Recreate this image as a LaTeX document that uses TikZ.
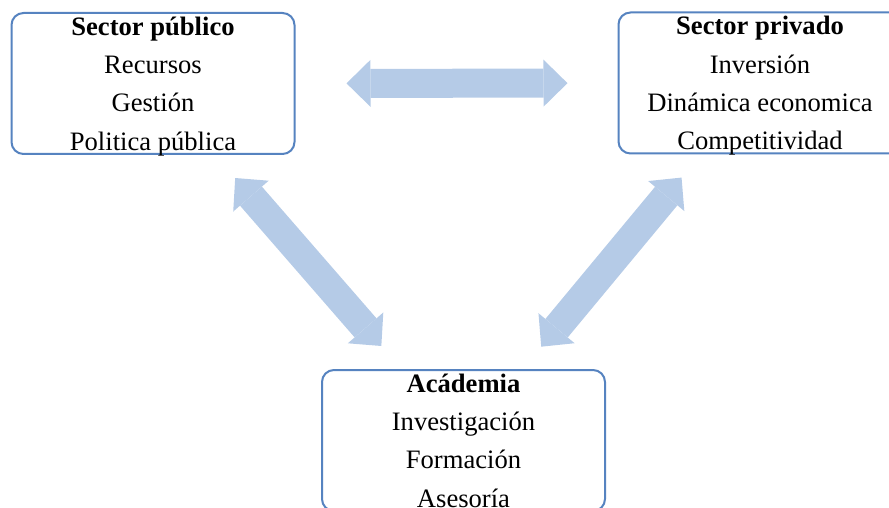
\documentclass[tikz,border=0pt]{standalone}
\usepackage{fontspec}
\setmainfont{Liberation Serif}
\usetikzlibrary{arrows.meta}
\definecolor{boxblue}{RGB}{86,131,192}
\definecolor{flowblue}{RGB}{181,203,231}

\begin{document}
\begin{tikzpicture}[x=0.5pt,y=-0.5pt,
  sector/.style={draw=boxblue,line width=1pt,rounded corners=6pt,fill=white,
    align=center,minimum width=141.5pt,minimum height=70.5pt,inner sep=0pt,
    text depth=0pt,font=\fontsize{13.3}{19.1}\selectfont},
  flow/.style={draw=flowblue,line width=14.5pt,
    {Triangle[length=12pt,width=23.5pt,line width=0pt]}-{Triangle[length=12pt,width=23.5pt,line width=0pt]}}]
  \clip (0,0) rectangle (889,508);
  \node[sector] (publico) at (153,83.5) {\textbf{Sector público}\\Recursos\\Gestión\\Politica pública};
  \node[sector] (privado) at (760,83) {\textbf{Sector privado}\\Inversión\\Dinámica economica\\Competitividad};
  \node[sector] (academia) at (463.5,440.5) {\textbf{Acádemia}\\Investigación\\Formación\\Asesoría};
  \draw[flow,shorten <=25.5pt,shorten >=25pt] (publico) -- (privado);
  \draw[flow,shorten <=15.25pt,shorten >=15.25pt] (publico) -- (academia);
  \draw[flow,shorten <=15pt,shorten >=14.5pt] (privado) -- (academia);
\end{tikzpicture}
\end{document}
